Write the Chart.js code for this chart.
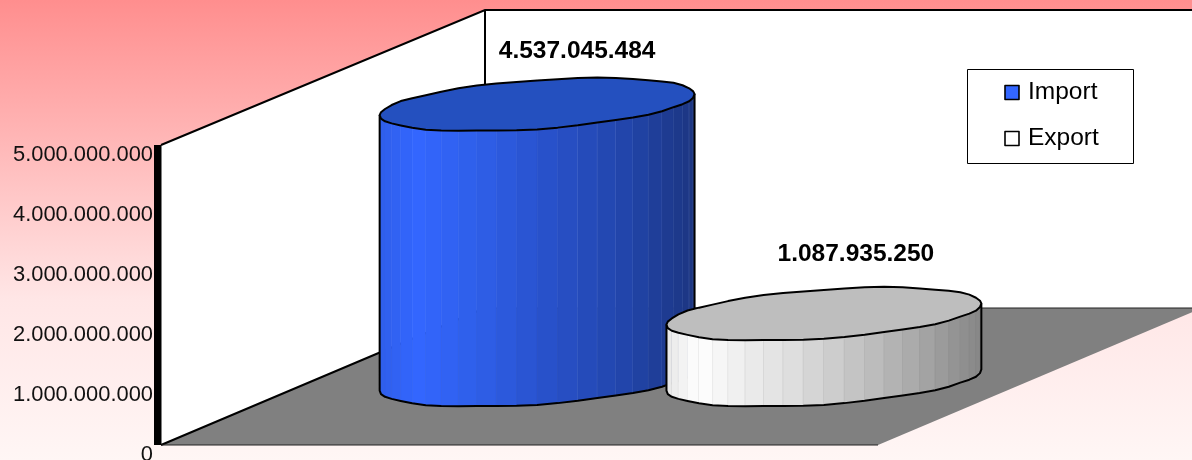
<!DOCTYPE html>
<html><head><meta charset="utf-8">
<style>html,body{margin:0;padding:0;background:#fff}canvas{display:block}</style>
<script src="https://cdn.jsdelivr.net/npm/chart.js@4"></script>
</head><body><canvas id="c" width="1192" height="460"></canvas>
<script>
const categories = [''];
const seriesNames = ['Import','Export'];
const importValues = [4537045484];
const exportValues = [1087935250];
const tickMax = 5000000000;
const tickStep = 1000000000;

const font = '"Liberation Sans", Arial, sans-serif';
const fmt = v => String(Math.round(v)).replace(/\B(?=(\d{3})+(?!\d))/g,'.');

const DEPTH = {x:324, top:135, floor:137};   // wall depth projection
const LABEL_SHIFT = 10;                      // axis sits above its tick text
const CYL = {dx:161, dy:75, stretch:1.012, tiltRatio:0.067, bRatio:0.155, facets:24};
// small outline kinks of the faceted cylinder (pixels, around the rim)
const rimKinks = [0,.4,.6,.1,-.4,.2,.5,.1,-.3,-.5,-.1,.3,.5,.2,-.3,-.5,-.2,.25,.5,.1,-.4,-.2,.3,.5];
const looks = [
  {swatch:'#3366FF', top:'#2450BF', seam:'rgba(150,175,240,.35)', seamFrom:.55,
   stops:[[0,'#2F5EEA'],[.12,'#3366FF'],[.3,'#2F5FEA'],[.55,'#2850C8'],[.8,'#2144A8'],[1,'#1C3580']],
   label:[40,-53]},
  {swatch:'#FFFFFF', top:'#BEBEBE', seam:'rgba(120,120,120,.25)', seamFrom:0,
   stops:[[0,'#E6E6E6'],[.1,'#FFFFFF'],[.2,'#F2F2F2'],[.4,'#DEDEDE'],[.6,'#C4C4C4'],[.8,'#A8A8A8'],[1,'#868686']],
   label:[32,-60]}
];

function hex(c){return [1,3,5].map(i=>parseInt(c.substr(i,2),16));}
function ramp(stops,u){
  for(let i=1;i<stops.length;i++){
    if(u<=stops[i][0]){
      const a=stops[i-1],b=stops[i],k=(u-a[0])/(b[0]-a[0]);
      const A=hex(a[1]),B=hex(b[1]);
      return 'rgb('+A.map((v,j)=>Math.round(v+(B[j]-v)*k)).join(',')+')';
    }
  }
  return stops[stops.length-1][1];
}

const scene = {
  id:'scene',
  beforeDraw(chart){
    const {ctx,width,height}=chart;
    const g=ctx.createLinearGradient(0,0,0,height);
    g.addColorStop(0,'#FF8E8E');g.addColorStop(.3,'#FFB6B6');g.addColorStop(.65,'#FFE6E6');g.addColorStop(1,'#FFF6F5');
    ctx.fillStyle=g;ctx.fillRect(0,0,width,height);
  },
  beforeDatasetsDraw(chart){
    const {ctx,chartArea:a}=chart;
    const L=a.left,T=a.top-LABEL_SHIFT,B=a.bottom-LABEL_SHIFT,R=a.right;
    const bx=L+DEPTH.x,bt=T-DEPTH.top,bb=B-DEPTH.floor;
    ctx.save();
    ctx.fillStyle='#fff';
    ctx.beginPath();ctx.moveTo(L,T);ctx.lineTo(bx,bt);ctx.lineTo(chart.width+20,bt);ctx.lineTo(chart.width+20,bb);ctx.lineTo(bx,bb);ctx.lineTo(L,B);ctx.closePath();ctx.fill();
    ctx.fillStyle='#808080';
    ctx.beginPath();ctx.moveTo(L,B);ctx.lineTo(bx,bb);ctx.lineTo(R+DEPTH.x,bb);ctx.lineTo(R,B);ctx.closePath();ctx.fill();
    ctx.strokeStyle='#000';ctx.lineWidth=2;
    ctx.beginPath();ctx.moveTo(L,T);ctx.lineTo(bx,bt);ctx.lineTo(chart.width+20,bt);ctx.moveTo(bx,bt);ctx.lineTo(bx,bb);ctx.moveTo(L,B);ctx.lineTo(bx,bb);ctx.stroke();
    ctx.lineWidth=1.2;ctx.strokeStyle='#222';
    ctx.beginPath();ctx.moveTo(bx,bb);ctx.lineTo(chart.width+20,bb);ctx.moveTo(L,B);ctx.lineTo(R,B);ctx.stroke();
    ctx.fillStyle='#000';ctx.fillRect(L-7,T,7.5,B-T);
    ctx.restore();
  },
  afterDatasetsDraw(chart){
    const {ctx}=chart;
    ctx.save();
    chart.data.datasets.forEach((ds,i)=>{
      const el=chart.getDatasetMeta(i).data[0], look=looks[i];
      const cx=el.x+CYL.dx, a=el.width/2, b=a*CYL.bRatio, s=a*CYL.tiltRatio;
      const baseY=el.base-CYL.dy, topY=baseY-(el.base-el.y)*CYL.stretch;
      const n=CYL.facets, ts=[];
      const kink=t=>{
        const k=Math.round(((t%(2*Math.PI))+2*Math.PI)%(2*Math.PI)/(2*Math.PI)*48)%48;
        return (k===0||k===24)?0:rimKinks[k%rimKinks.length];
      };
      const P=(t,cy)=>[cx+a*Math.cos(t), cy+b*Math.sin(t)-s*Math.cos(t)+kink(t)];
      for(let k=0;k<=n;k++)ts.push(Math.PI*(1-k/n));
      for(let k=0;k<n;k++){
        const p=P(ts[k],topY),q=P(ts[k+1],topY),r=P(ts[k+1],baseY),o=P(ts[k],baseY);
        const u=((p[0]+q[0])/2-(cx-a))/(2*a);
        ctx.fillStyle=ramp(look.stops,u);
        ctx.beginPath();ctx.moveTo(p[0],p[1]);ctx.lineTo(q[0],q[1]);ctx.lineTo(r[0],r[1]);ctx.lineTo(o[0],o[1]);ctx.closePath();ctx.fill();
        ctx.strokeStyle=ramp(look.stops,u);ctx.lineWidth=.6;ctx.stroke();
        if(u>look.seamFrom){ctx.strokeStyle=look.seam;ctx.lineWidth=1;ctx.beginPath();ctx.moveTo(q[0],q[1]);ctx.lineTo(r[0],r[1]);ctx.stroke();}
      }
      ctx.strokeStyle='#000';ctx.lineWidth=2;ctx.lineJoin='round';
      ctx.beginPath();
      let p=P(Math.PI,topY);ctx.moveTo(p[0],p[1]);
      ts.forEach(t=>{const q=P(t,baseY);ctx.lineTo(q[0],q[1]);});
      p=P(0,topY);ctx.lineTo(p[0],p[1]);
      ctx.stroke();
      ctx.fillStyle=look.top;
      ctx.beginPath();
      for(let k=0;k<48;k++){const q=P(k/48*2*Math.PI,topY);k?ctx.lineTo(q[0],q[1]):ctx.moveTo(q[0],q[1]);}
      ctx.closePath();ctx.fill();ctx.stroke();
    });
    chart.data.datasets.forEach((ds,i)=>{
      const el=chart.getDatasetMeta(i).data[0], look=looks[i];
      const baseY=el.base-CYL.dy, topY=baseY-(el.base-el.y)*CYL.stretch;
      ctx.fillStyle='#000';ctx.font='bold 24.5px '+font;ctx.textAlign='center';ctx.textBaseline='middle';
      ctx.fillText(fmt(ds.data[0]),el.x+CYL.dx+look.label[0],topY+look.label[1]);
    });
    // legend
    const lx=967.5,ly=69.5,lw=166,lh=94;
    ctx.fillStyle='#fff';ctx.fillRect(lx,ly,lw,lh);
    ctx.strokeStyle='#000';ctx.lineWidth=1;ctx.strokeRect(lx,ly,lw,lh);
    chart.data.datasets.forEach((ds,i)=>{
      const y=92.5+i*46;
      ctx.fillStyle=looks[i].swatch;ctx.fillRect(1005,y-7,14,14);
      ctx.strokeStyle='#000';ctx.lineWidth=1.6;ctx.strokeRect(1005,y-7,14,14);
      ctx.fillStyle='#000';ctx.font='24.5px '+font;ctx.textAlign='left';ctx.textBaseline='middle';
      ctx.fillText(ds.label,1028,y-0.5);
    });
    ctx.restore();
  }
};

new Chart(document.getElementById('c'),{
  type:'bar',
  data:{labels:categories,datasets:[
    {label:seriesNames[0],data:importValues,backgroundColor:'transparent',borderWidth:0,barPercentage:1.098,categoryPercentage:.8},
    {label:seriesNames[1],data:exportValues,backgroundColor:'transparent',borderWidth:0,barPercentage:1.098,categoryPercentage:.8}
  ]},
  options:{
    responsive:false,animation:false,devicePixelRatio:1,
    layout:{padding:{top:155,bottom:5,right:314,left:0}},
    plugins:{legend:{display:false},tooltip:{enabled:false},title:{display:false}},
    scales:{
      x:{display:false},
      y:{min:0,max:tickMax,
        grid:{display:false},border:{display:false},
        afterFit(s){s.width=161;s.paddingTop=0;s.paddingBottom=0;},
        ticks:{stepSize:tickStep,padding:0,color:'#111',font:{family:font,size:21.9},callback:v=>fmt(v)}
      }
    }
  },
  plugins:[scene]
});
</script></body></html>
